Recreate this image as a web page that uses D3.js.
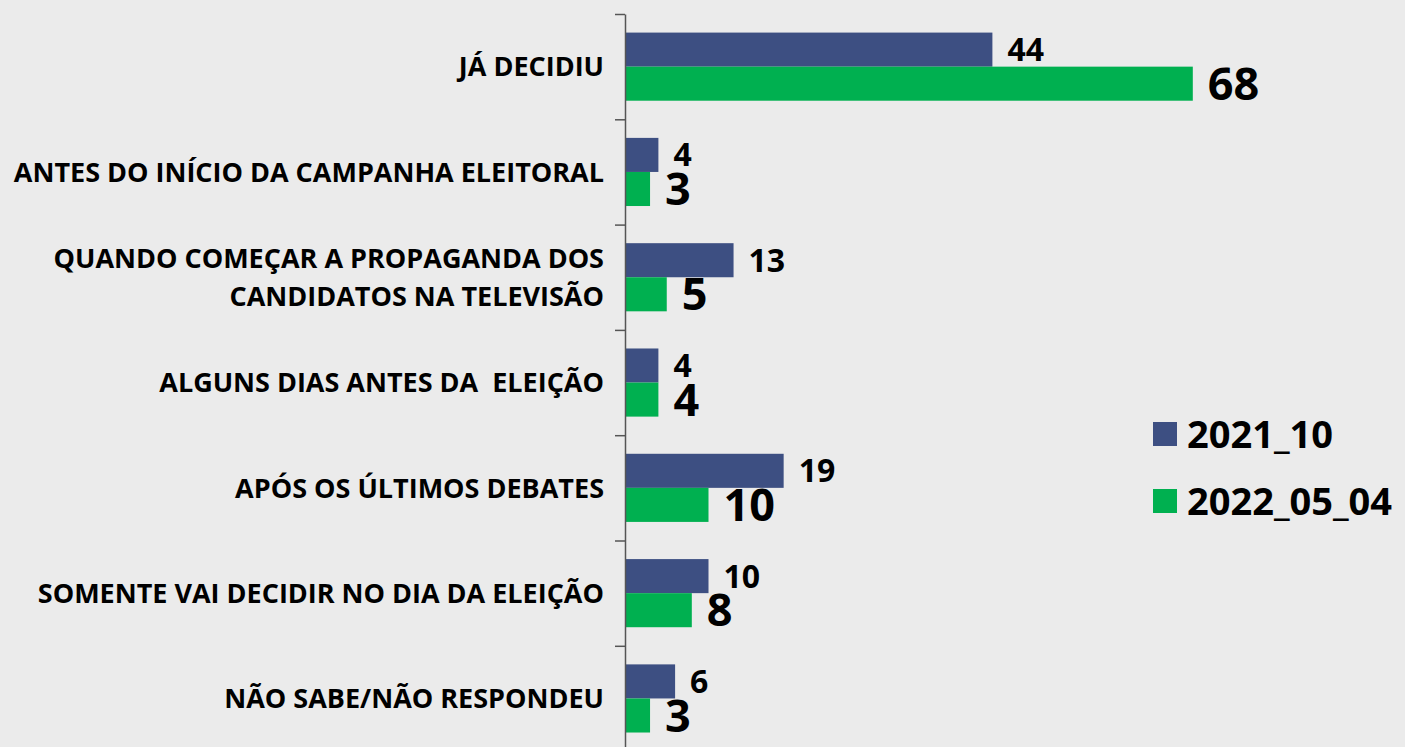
<!DOCTYPE html>
<html>
<head>
<meta charset="utf-8">
<script src="https://cdn.jsdelivr.net/npm/d3@7"></script>
<style>
  html, body { margin: 0; padding: 0; background: #ebebeb; overflow: hidden; }
  text { font-family: "Open Sans", sans-serif; font-weight: bold; fill: #000; }
</style>
</head>
<body>
<div id="wrapper"></div>
<script>
const categories = [
  ["JÁ DECIDIU"],
  ["ANTES DO INÍCIO DA CAMPANHA ELEITORAL"],
  ["QUANDO COMEÇAR A PROPAGANDA DOS", "CANDIDATOS NA TELEVISÃO"],
  ["ALGUNS DIAS ANTES DA  ELEIÇÃO"],
  ["APÓS OS ÚLTIMOS DEBATES"],
  ["SOMENTE VAI DECIDIR NO DIA DA ELEIÇÃO"],
  ["NÃO SABE/NÃO RESPONDEU"]
];
const seriesNames = ["2021_10", "2022_05_04"];
const values2021 = [44, 4, 13, 4, 19, 10, 6];
const values2022 = [68, 3, 5, 4, 10, 8, 3];

const colors = ["#3d4f82", "#00b050"];
const labelSizes = [32, 45];

function drawChart(){
  const width = 1405;
  const height = 747;
  let dimensions = {
    width: width,
    height: height,
    margin: { top: 14, left: 625 }
  };

  const svg = d3.select("#wrapper").append("svg")
    .attr("width", dimensions.width)
    .attr("height", dimensions.height);

  svg.append("rect").attr("width", width).attr("height", height).attr("fill", "#ebebeb");

  const idx = d3.range(categories.length);
  const step = 105.3;

  const yScaler = d3.scaleBand()
    .domain(idx)
    .range([dimensions.margin.top, dimensions.margin.top + step * categories.length])
    .paddingInner(0.353)
    .paddingOuter(0.1765);

  const subScaler = d3.scaleBand()
    .domain([0, 1])
    .range([0, yScaler.bandwidth()]);

  const xScaler = d3.scaleLinear()
    .domain([0, 80])
    .range([dimensions.margin.left, dimensions.margin.left + 668]);

  const series = [values2021, values2022];
  const rows = [];
  idx.forEach(i => series.forEach((vals, s) => rows.push({ i, s, v: vals[i] })));

  // bars
  svg.append("g").selectAll("rect")
    .data(rows)
    .join("rect")
    .attr("x", xScaler(0))
    .attr("y", d => yScaler(d.i) + subScaler(d.s))
    .attr("width", d => xScaler(d.v) - xScaler(0))
    .attr("height", subScaler.bandwidth())
    .attr("fill", d => colors[d.s]);

  // value labels
  svg.append("g").selectAll("text")
    .data(rows)
    .join("text")
    .attr("x", d => xScaler(d.v) + 15)
    .attr("y", d => yScaler(d.i) + subScaler(d.s) + subScaler.bandwidth() / 2)
    .attr("dy", "0.36em")
    .style("font-size", d => labelSizes[d.s] + "px")
    .text(d => d.v);

  // axis with ticks at category boundaries
  const boundary = d3.scaleLinear()
    .domain([0, categories.length])
    .range([dimensions.margin.top, dimensions.margin.top + step * categories.length]);

  const axisGen = d3.axisLeft(boundary)
    .tickValues(d3.range(0, categories.length + 1))
    .tickFormat("")
    .tickSize(10)
    .tickSizeOuter(0);

  const axis = svg.append("g")
    .attr("transform", `translate(${dimensions.margin.left},0)`)
    .call(axisGen);
  axis.selectAll("path, line").attr("stroke", "#555").attr("stroke-width", 1.5);

  // category labels
  const catLabels = svg.append("g").selectAll("text")
    .data(idx)
    .join("text")
    .attr("x", 604)
    .attr("y", i => yScaler(i) + yScaler.bandwidth() / 2)
    .attr("text-anchor", "end")
    .style("font-size", "27px")
    .style("white-space", "pre");

  catLabels.each(function(i){
    const lines = categories[i];
    const lh = 38;
    d3.select(this).selectAll("tspan")
      .data(lines)
      .join("tspan")
      .attr("x", 604)
      .attr("dy", (d, k) => k === 0 ? (0.36 * 27 - (lines.length - 1) * lh / 2) + "px" : lh + "px")
      .text(d => d);
  });

  // legend
  const legend = svg.append("g").selectAll("g")
    .data(seriesNames)
    .join("g")
    .attr("transform", (d, k) => `translate(1153,${434 + k * 67})`);
  legend.append("rect")
    .attr("x", 0).attr("y", -12)
    .attr("width", 24).attr("height", 24)
    .attr("fill", (d, k) => colors[k]);
  legend.append("text")
    .attr("x", 34)
    .attr("dy", "0.36em")
    .style("font-size", "38px")
    .text(d => d);
}

drawChart();
</script>
</body>
</html>
